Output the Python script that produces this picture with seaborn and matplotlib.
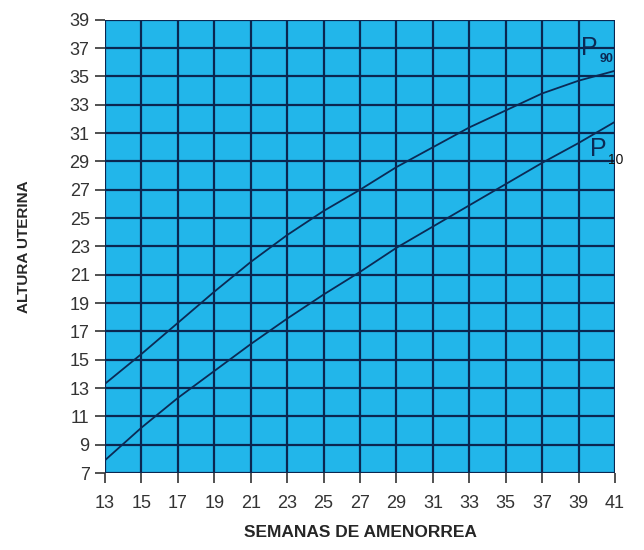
import numpy as np
import pandas as pd
import matplotlib
matplotlib.use("Agg")
import matplotlib.pyplot as plt
import seaborn as sns

# datos (semanas vs altura uterina en cm)
semanas = [13, 15, 17, 19, 21, 23, 25, 27, 29, 31, 33, 35, 37, 39, 41]
p90 = [13.3, 15.4, 17.6, 19.8, 21.9, 23.8, 25.5, 27.0, 28.6, 30.0, 31.4, 32.6, 33.8, 34.7, 35.4]
p10 = [7.9, 10.2, 12.3, 14.2, 16.1, 17.9, 19.6, 21.2, 22.9, 24.4, 25.9, 27.4, 28.9, 30.3, 31.8]
xticks = list(range(13, 42, 2))
yticks = list(range(7, 40, 2))

df = pd.DataFrame({"Semanas": semanas * 2,
                   "Altura": p90 + p10,
                   "Percentil": ["P90"] * len(semanas) + ["P10"] * len(semanas)})

sns.set_style("white")
plt.rcParams['font.family'] = ['Liberation Sans', 'DejaVu Sans']

fig = plt.figure(figsize=(6.44, 5.5), dpi=100)
ax = fig.add_axes([0.163, 0.14, 0.792, 0.824])
ax.set_facecolor('#22b6ea')

sns.lineplot(data=df, x="Semanas", y="Altura", hue="Percentil",
             palette={"P90": "#0b2a55", "P10": "#0b2a55"},
             linewidth=1.3, legend=False, ax=ax, zorder=3)

ax.set_xlim(13, 41)
ax.set_ylim(7, 39)
ax.set_xticks(xticks)
ax.set_yticks(yticks)
ax.grid(True, color='#0a2650', linewidth=1.6)
ax.set_axisbelow(False)
for s in ax.spines.values():
    s.set_visible(False)
ax.tick_params(axis='both', bottom=True, left=True, length=7, width=1.2,
               color='#333333', labelsize=13, labelcolor='#333333', pad=4)
ax.tick_params(axis='x', pad=9)

ax.set_xlabel("SEMANAS DE AMENORREA", fontsize=12.5, fontweight='bold', labelpad=9)
ax.set_ylabel("ALTURA UTERINA", fontsize=11, fontweight='bold', labelpad=28)

ax.text(39.6, 37.0, "P", fontsize=18, color='#0b2a55', ha='center', va='center')
ax.text(40.15, 36.2, "90", fontsize=9, color='#0b2a55', fontweight='bold',
        ha='left', va='center', clip_on=False)
ax.text(40.1, 29.9, "P", fontsize=18, color='#0b2a55', ha='center', va='center', clip_on=False)
ax.text(40.6, 29.1, "10", fontsize=10, color='#111111', ha='left', va='center', clip_on=False)

fig.savefig("out.png", dpi=100)
